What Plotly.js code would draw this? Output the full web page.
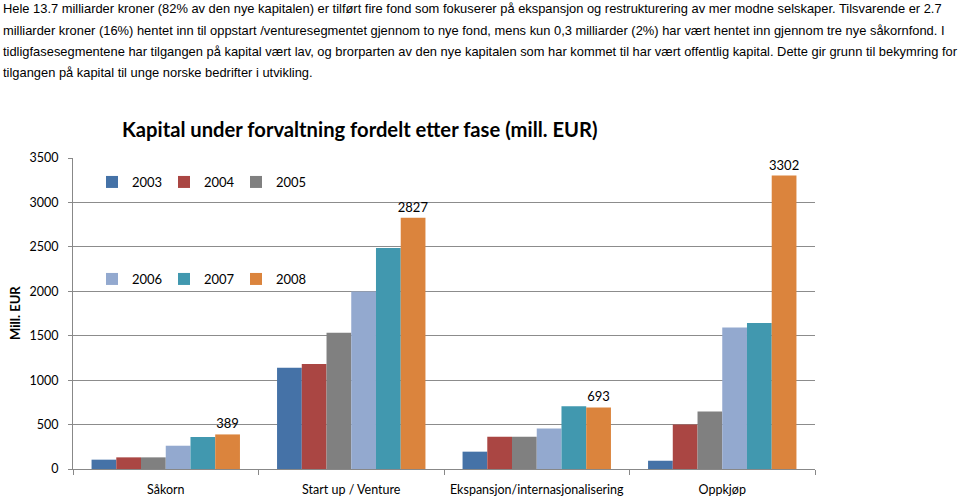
<!DOCTYPE html>
<html>
<head>
<meta charset="utf-8">
<script src="https://cdn.plot.ly/plotly-3.0.1.min.js"></script>
<style>
  body { margin: 0; background: #fff; }
  #chart { width: 960px; height: 498px; }
</style>
</head>
<body>
<div id="chart"></div>
<script>
// data lest av figuren
var faser = ['Såkorn', 'Start up / Venture', 'Ekspansjon/internasjonalisering', 'Oppkjøp'];
var aar = ['2003', '2004', '2005', '2006', '2007', '2008'];
var v2003 = [105, 1140, 195, 93];
var v2004 = [131, 1181, 363, 502];
var v2005 = [131, 1533, 363, 648];
var v2006 = [262, 1998, 457, 1593];
var v2007 = [360, 2486, 705, 1642];
var v2008 = [389, 2827, 693, 3302];
var farger = ['#4572A7', '#AA4643', '#808080', '#93A9CF', '#4198AF', '#DB843D'];

var intro = [
  'Hele 13.7 milliarder kroner (82% av den nye kapitalen) er tilført fire fond som fokuserer på ekspansjon og restrukturering av mer modne selskaper. Tilsvarende er 2.7',
  'milliarder kroner (16%) hentet inn til oppstart /venturesegmentet gjennom to nye fond, mens kun 0,3 milliarder (2%) har vært hentet inn gjennom tre nye såkornfond. I',
  'tidligfasesegmentene har tilgangen på kapital vært lav, og brorparten av den nye kapitalen som har kommet til har vært offentlig kapital. Dette gir grunn til bekymring for',
  'tilgangen på kapital til unge norske bedrifter i utvikling.'
];

var serier = [v2003, v2004, v2005, v2006, v2007, v2008];
var data = serier.map(function (v, i) {
  var t = {
    type: 'bar',
    x: faser,
    y: v,
    name: aar[i],
    marker: { color: farger[i] },
    legend: i < 3 ? 'legend' : 'legend2'
  };
  if (i === 5) {
    t.text = v.map(String);
    t.textposition = 'outside';
    t.constraintext = 'none';
    t.textfont = { family: 'Lato, sans-serif', size: 13, color: '#000' };
    t.cliponaxis = false;
  }
  return t;
});

// plott: x 73..815, y 158..469
var ph = 311, pw = 742;
function py(pix) { return (469 - pix) / ph; }
function px(pix) { return (pix - 73) / pw; }

var annotations = intro.map(function (linje, i) {
  return {
    text: linje, xref: 'paper', yref: 'paper',
    x: px(1), y: py(9 + i * 21.3), xanchor: 'left', yanchor: 'middle',
    showarrow: false,
    font: { family: 'Liberation Sans, Arial, sans-serif', size: 12.9, color: '#000' }
  };
});
annotations.push({
  text: '<b>Kapital under forvaltning fordelt etter fase (mill. EUR)</b>',
  xref: 'paper', yref: 'paper', x: px(360), y: py(129),
  xanchor: 'center', yanchor: 'middle', showarrow: false,
  font: { family: 'Lato, sans-serif', size: 20.2, color: '#000' }
});
annotations.push({
  text: '<b>Mill. EUR</b>', textangle: -90,
  xref: 'paper', yref: 'paper', x: px(15), y: py(313),
  xanchor: 'center', yanchor: 'middle', showarrow: false,
  font: { family: 'Lato, sans-serif', size: 13, color: '#000' }
});

function legende(ypix) {
  return {
    orientation: 'h', x: px(92), y: py(ypix), xanchor: 'left', yanchor: 'middle',
    entrywidth: 27, entrywidthmode: 'pixels',
    font: { size: 13 }, bgcolor: 'rgba(0,0,0,0)'
  };
}

var layout = {
  width: 960, height: 498,
  margin: { l: 73, r: 145, t: 158, b: 29 },
  paper_bgcolor: '#fff', plot_bgcolor: '#fff',
  font: { family: 'Lato, sans-serif', size: 13, color: '#000' },
  barmode: 'group',
  bargap: 0.2,
  bargroupgap: 0,
  xaxis: {
    type: 'category',
    showline: true, linecolor: '#888', linewidth: 1,
    ticks: 'outside', tickson: 'boundaries', ticklen: 5, tickcolor: '#888',
    tickangle: 0, automargin: false,
    ticklabelstandoff: 9,
    tickfont: { size: 12.5 },
    showgrid: false
  },
  yaxis: {
    range: [0, 3500], dtick: 500,
    showline: true, linecolor: '#888', linewidth: 1,
    ticks: 'outside', ticklen: 4, tickcolor: '#888',
    ticklabelstandoff: 7,
    gridcolor: '#8c8c8c', gridwidth: 1,
    zeroline: false,
    tickfont: { size: 12.5 }
  },
  legend: legende(182),
  legend2: legende(279),
  annotations: annotations
};

Plotly.newPlot('chart', data, layout, { displayModeBar: false, staticPlot: true });
</script>
</body>
</html>
